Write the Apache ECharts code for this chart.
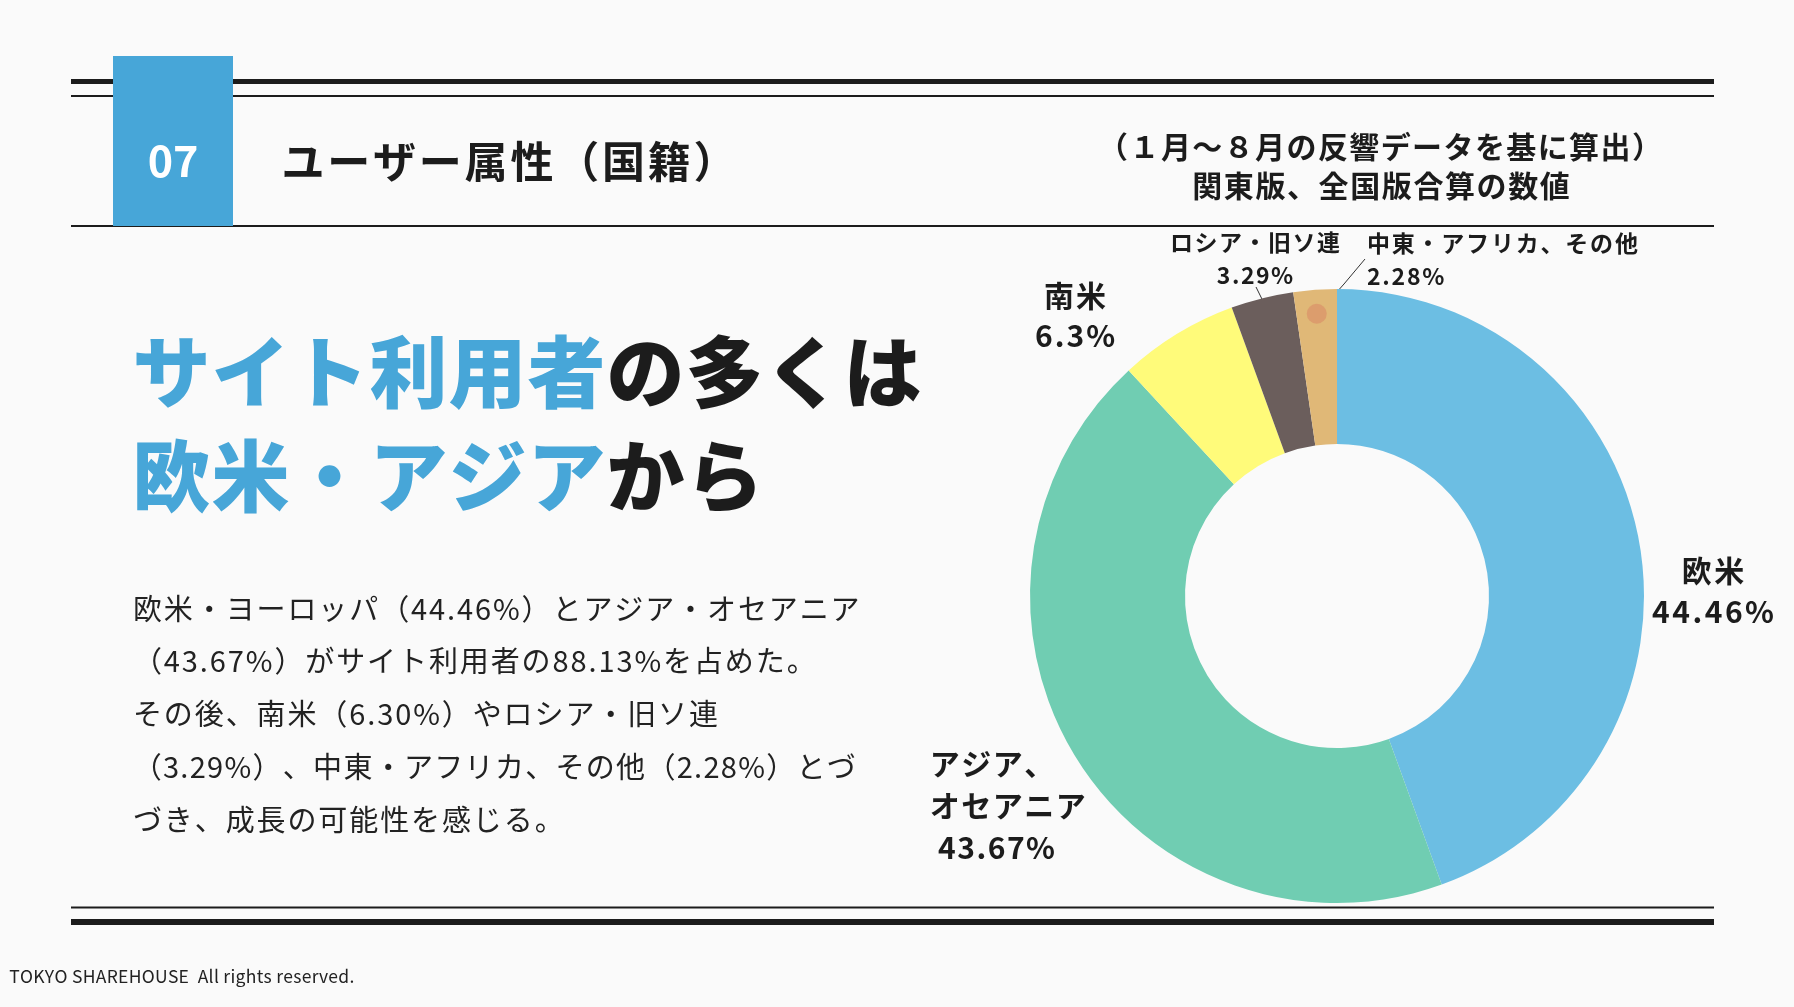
<!DOCTYPE html>
<html><head><meta charset="utf-8">
<script src="https://cdn.jsdelivr.net/npm/echarts@6/dist/echarts.min.js"></script>
<style>html,body{margin:0;padding:0;background:#fafafa}#c{width:1794px;height:1007px}</style>
</head><body><div id="c"></div>
<script>
// ---- data ----
const categories = ['欧米', 'アジア、\nオセアニア', '南米', 'ロシア・旧ソ連', '中東・アフリカ、その他'];
const shares = [44.46, 43.67, 6.3, 3.29, 2.28];
const sliceColors = ['#6cbee3', '#70cdb2', '#fffb7a', '#6b5e5c', '#e0b877'];
const sectionNo = '07';
const titleText = 'ユーザー属性（国籍）';
const noteLines = ['（１月～８月の反響データを基に算出）', '関東版、全国版合算の数値'];
const headline1 = ['サイト利用者', 'の多くは'];
const headline2 = ['欧米・アジア', 'から'];
const bodyLines = [
  '欧米・ヨーロッパ（44.46%）とアジア・オセアニア',
  '（43.67%）がサイト利用者の88.13%を占めた。',
  'その後、南米（6.30%）やロシア・旧ソ連',
  '（3.29%）、中東・アフリカ、その他（2.28%）とづ',
  'づき、成長の可能性を感じる。'
];
const footerText = 'TOKYO SHAREHOUSE  All rights reserved.';

// ---- layout ----
const JP = '"Noto Sans CJK JP", "Noto Sans", sans-serif';
const DARK = '#1c1c1c';
const BLUE = '#47a6d8';
const CX = 1337, CY = 596, R_IN = 152, R_OUT = 307;

// wrap every character into a rich token so that letter spacing can be applied via padding
function spaced(text, key) {
  return text.split('\n').map(line => Array.from(line).map(ch => '{' + key + '|' + ch + '}').join('')).join('\n');
}
function rs(size, weight, fill, gap, lh) {
  const o = {fontSize: size, fontWeight: weight, fontFamily: JP, padding: [0, gap / 2, 0, gap / 2]};
  if (fill) o.fill = o.color = fill;
  if (lh) o.lineHeight = lh;
  return o;
}

const labelPos = [
  {x: 1713, y: 591, align: 'center'},
  {x: 929, y: 806, align: 'left'},
  {x: 1075, y: 316, align: 'center'},
  {x: 1255, y: 259, align: 'center'},
  {x: 1366, y: 260, align: 'left'}
];
const labelSize = [30, 30, 30, 23, 23];
const labelGap = [2.5, 1.5, 2, 1.5, 1.8];
const labelLH = [41, 42, 40, 33, 33];
const bodyY = [609, 661, 714, 767, 820];
const bodyGap = [1.9, 1.9, 1.9, 1.3, 1.9];

// mid-angles of slices (clockwise from top) computed from data
const total = shares.reduce((a, b) => a + b, 0);
let acc = 0;
const midAng = shares.map(v => { const m = (acc + v / 2) / total * 2 * Math.PI; acc += v; return m; });
function polar(r, a) { return [CX + r * Math.sin(a), CY - r * Math.cos(a)]; }

const dotPt = polar(283, midAng[4]);

const leader = {
  3: [polar(290, midAng[3]), polar(305, midAng[3]), [1256, 287]],
  4: [[dotPt[0] + 7, dotPt[1] - 7], [1344, 284], [1365, 259]]
};

const chart = echarts.init(document.getElementById('c'), null, {renderer: 'canvas'});

function hline(x1, x2, y, w) {
  return {type: 'line', shape: {x1: x1, y1: y, x2: x2, y2: y}, style: {stroke: '#1c1c1c', lineWidth: w}, z: 1};
}
function txt(text, x, y, align, size, weight, fill, gap) {
  return {type: 'text', z: 3, style: {text: spaced(text, 'a'), x: x, y: y, textAlign: align, textVerticalAlign: 'middle',
    fill: fill, fontSize: size, fontWeight: weight, fontFamily: JP, rich: {a: rs(size, weight, fill, gap)}}};
}
function twoTone(parts, y) {
  return {type: 'text', z: 3, style: {text: spaced(parts[0], 'b') + spaced(parts[1], 'k'), x: 132, y: y,
    textAlign: 'left', textVerticalAlign: 'middle', fontSize: 78, fontWeight: 900, fontFamily: JP,
    rich: {b: rs(78, 900, BLUE, 1), k: rs(78, 900, DARK, 1)}}};
}

const graphics = [
  hline(71, 1714, 81.5, 5),
  hline(71, 1714, 96, 2),
  hline(71, 1714, 226, 2),
  hline(71, 1714, 907.5, 2),
  hline(71, 1714, 922, 6),
  {type: 'rect', shape: {x: 113, y: 56, width: 120, height: 170}, style: {fill: BLUE}, z: 2},
  txt(sectionNo, 173, 161, 'center', 43, 'bold', '#fff', 0),
  txt(titleText, 280, 162, 'left', 43, 'bold', DARK, 2.8),
  txt(noteLines[0], 1380, 147, 'center', 30, 'bold', DARK, 1.4),
  txt(noteLines[1], 1381, 186, 'center', 30, 'bold', DARK, 1.6),
  twoTone(headline1, 372),
  twoTone(headline2, 476),
  txt(footerText, 9, 976, 'left', 17.5, 'normal', '#222', 0.3),
  {type: 'circle', z: 20, shape: {cx: dotPt[0], cy: dotPt[1], r: 10}, style: {fill: '#dc9a6c', opacity: 0.9}}
];
bodyLines.forEach((t, i) => graphics.push(txt(t, 132, bodyY[i], 'left', 29, 'normal', '#222', bodyGap[i])));

const pieData = categories.map((n, i) => ({
  name: n, value: shares[i],
  itemStyle: {color: sliceColors[i]},
  label: {fontSize: labelSize[i], lineHeight: labelLH[i],
    rich: {c: rs(labelSize[i], 'bold', DARK, labelGap[i], labelLH[i])}},
  labelLine: {show: i >= 3}
}));

chart.setOption({
  backgroundColor: '#fafafa',
  animation: false,
  graphic: graphics,
  series: [{
    type: 'pie',
    center: [CX, CY],
    radius: [R_IN, R_OUT],
    startAngle: 90,
    clockwise: true,
    data: pieData,
    z: 5,
    label: {
      show: true, position: 'outside', color: DARK, fontWeight: 'bold', fontFamily: JP,
      overflow: 'none', width: null,
      formatter: p => spaced(p.name + '\n' + (p.dataIndex === 1 ? ' ' : '') + p.value + '%', 'c')
    },
    labelLine: {lineStyle: {color: '#333', width: 1}, length: 10, length2: 10},
    labelLayout: function (params) {
      const i = params.dataIndex;
      const lp = labelPos[i];
      const o = {x: lp.x, y: lp.y, align: lp.align, verticalAlign: 'middle'};
      if (leader[i]) o.labelLinePoints = leader[i];
      return o;
    },
    emphasis: {disabled: true}
  }]
});
</script></body></html>
